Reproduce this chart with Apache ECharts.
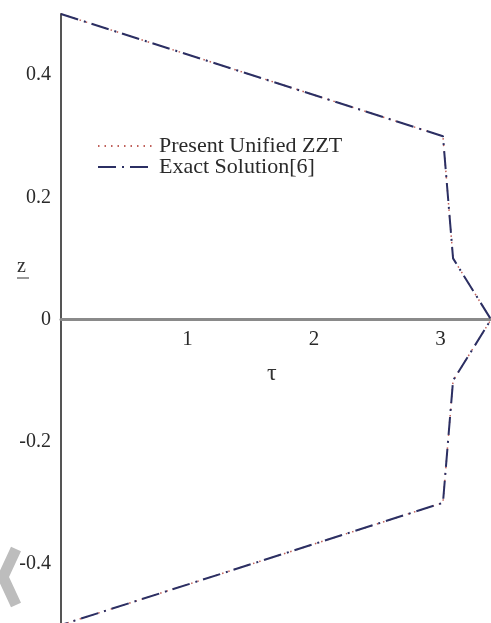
<!DOCTYPE html>
<html><head><meta charset="utf-8">
<script src="https://cdn.jsdelivr.net/npm/echarts@6/dist/echarts.min.js"></script>
<style>html,body{margin:0;padding:0;background:#fff}#c{width:491px;height:623px}</style>
</head><body><div id="c"></div>
<script>
var tau = [0, 3.02, 3.1, 3.4, 3.1, 3.02, 0];
var zExact = [0.5, 0.3, 0.1, 0, -0.1, -0.3, -0.5];
var zPresent = [0.5, 0.3, 0.1, 0, -0.1, -0.3, -0.5];
var seriesNames = ['Present Unified ZZT', 'Exact Solution[6]'];

function pairs(xs, ys){ return xs.map(function(x,i){ return [x, ys[i]]; }); }
var serif = 'Liberation Serif, DejaVu Serif, serif';
var gridTop = 14, gridBottom = -2, H = 623;
var halfH = (H - gridTop - gridBottom) / 2;
var chart = echarts.init(document.getElementById('c'));
chart.setOption({
  animation: false,
  grid: {left: 61, right: 0, top: gridTop, bottom: gridBottom, containLabel: false, outerBoundsMode: 'none'},
  xAxis: {
    type: 'value', min: 0, max: 3.4, interval: 1, position: 'bottom', offset: -halfH,
    axisLine: {onZero: false, lineStyle: {color: '#8a8a8a', width: 3}},
    axisTick: {show: false}, splitLine: {show: false},
    axisLabel: {margin: 9, fontFamily: serif, fontSize: 21, color: '#2a2a2a',
      formatter: function(v){ return (v > 0 && v < 3.4) ? String(Math.round(v)) : ''; }}
  },
  yAxis: {
    type: 'value', min: -0.5, max: 0.5, interval: 0.1,
    axisLine: {onZero: false, lineStyle: {color: '#555', width: 2}},
    axisTick: {show: false}, splitLine: {show: false},
    axisLabel: {margin: 10, fontFamily: serif, fontSize: 20, color: '#2a2a2a',
      formatter: function(v){
        var k = Math.round(v * 10);
        if (k % 2 !== 0 || Math.abs(k) >= 5) return '';
        if (k === 0) return '0';
        return (k / 10).toFixed(1);
      }}
  },
  legend: {
    orient: 'vertical', left: 97, top: 135, padding: 0, itemWidth: 56, itemHeight: 10, itemGap: -1,
    textStyle: {fontFamily: serif, fontSize: 22, color: '#2a2a2a'},
    itemStyle: {opacity: 0},
    data: seriesNames
  },
  graphic: [
    {type: 'text', left: 17, top: 257, style: {text: 'z', font: '20px ' + serif, fill: '#333'}},
    {type: 'line', shape: {x1: 17, y1: 278, x2: 29, y2: 278}, style: {stroke: '#333', lineWidth: 1}},
    {type: 'text', left: 267, top: 362, style: {text: 'τ', font: '24px ' + serif, fill: '#333'}},
    {type: 'polyline', shape: {points: [[16, 549], [3, 577], [16, 605]]}, style: {stroke: '#bdbdbd', lineWidth: 11, fill: null}}
  ],
  series: [
    {name: seriesNames[0], type: 'line', data: pairs(tau, zPresent), showSymbol: false, symbol: 'none',
     lineStyle: {color: '#c0605a', width: 1.5, type: [1.5, 5]}, itemStyle: {color: '#c0605a'}, z: 2},
    {name: seriesNames[1], type: 'line', data: pairs(tau, zExact), showSymbol: false, symbol: 'none',
     lineStyle: {color: '#2b2f63', width: 2, type: [18, 6, 2, 6]}, itemStyle: {color: '#2b2f63'}, z: 3}
  ]
});
</script></body></html>
